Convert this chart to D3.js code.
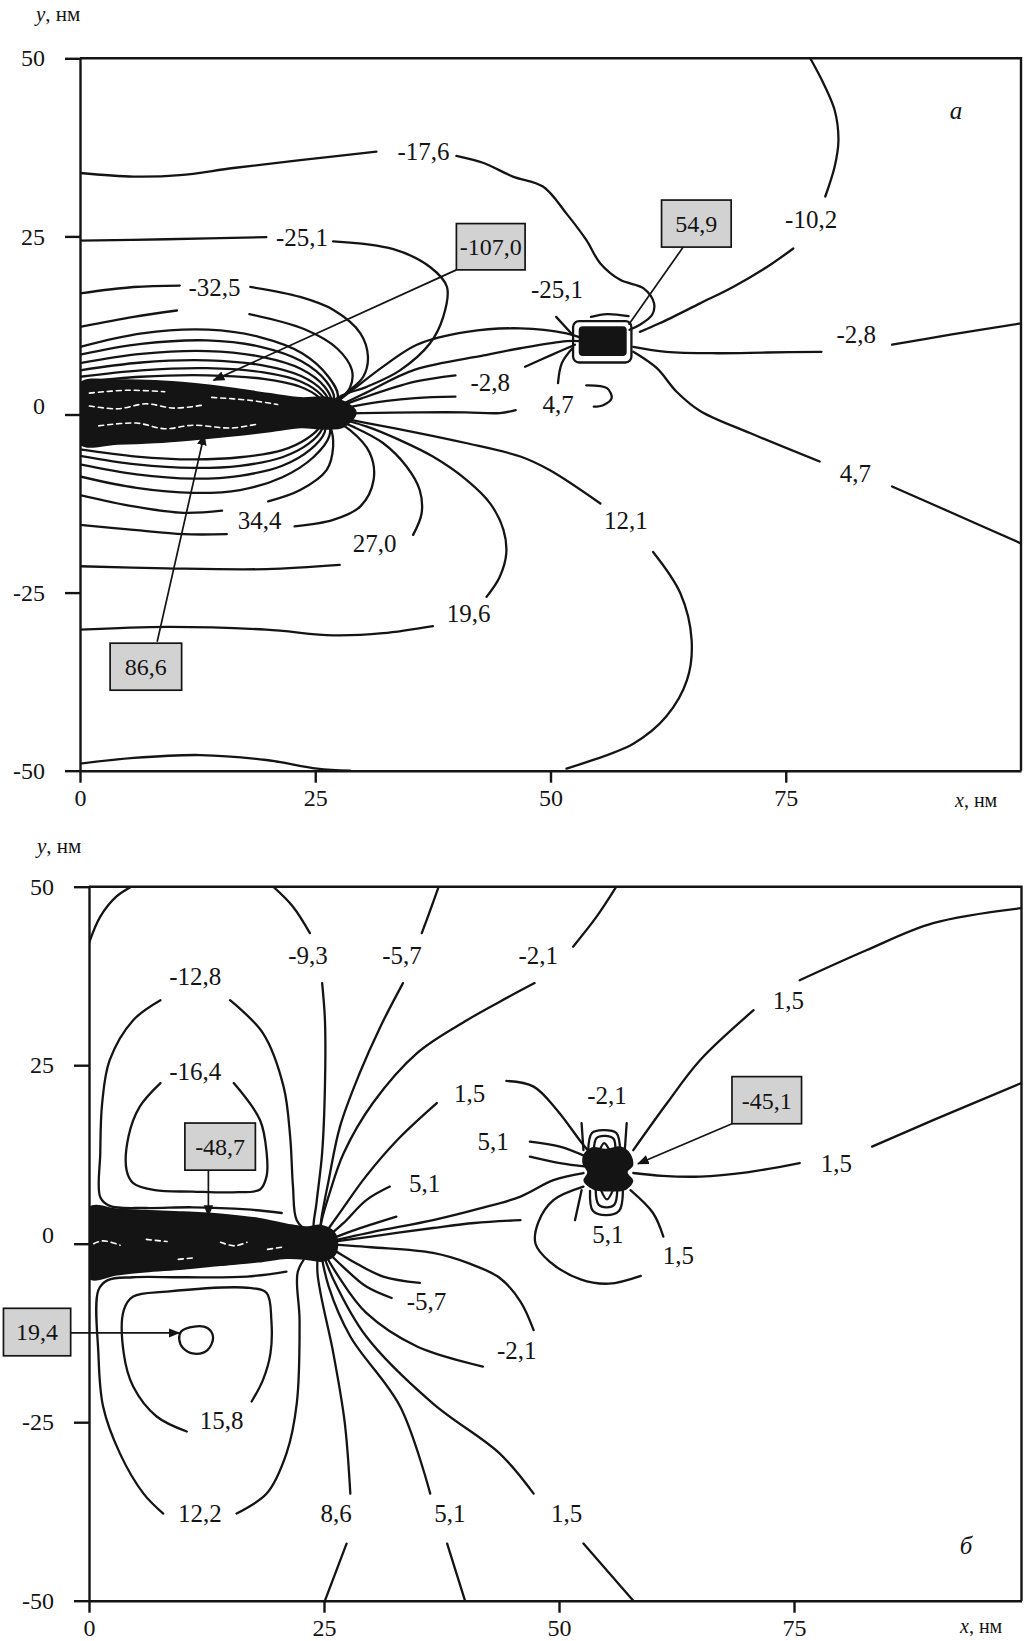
<!DOCTYPE html>
<html>
<head>
<meta charset="utf-8">
<script src="https://cdn.jsdelivr.net/npm/d3@7"></script>
<style>
  body { margin: 0; background: #fff; }
  svg text { font-family: "Liberation Serif", "Times New Roman", serif; fill: #141414; }
</style>
</head>
<body>
<svg id="chart" width="1027" height="1641"></svg>
<script>
// ---------- axis ticks ----------
const xTicks = [0, 25, 50, 75];
const yTicks = [-50, -25, 0, 25, 50];

// ================= Panel а: potential contours (nm) =================
// closed loops above the charged strip, segments split where the plot leaves gaps
const upperA = [
  {level: -17.6, pts: [[0,33.9],[5.7,33.4],[10.6,33.6],[16.3,34.6],[23.4,35.7],[31.5,36.9]]},
  {level: -17.6, pts: [[40.0,36.3],[42.9,35.3],[46.0,33.4],[49.2,32.0],[51.7,28.2],[53.8,24.5],[55.3,21.2],[57.4,18.9],[59.9,17.7],[61.0,15.6],[60.8,14.0],[59.5,12.6],[58.4,11.9]]},
  {level: -25.1, pts: [[0,24.4],[9.2,24.6],[19.8,24.9]]},
  {level: -25.1, pts: [[26.9,24.3],[33.3,23.2],[37.2,20.7],[39.0,17.9],[38.6,13.7],[37.2,10.0],[34.0,6.2],[30.5,3.9],[27.6,2.5],[25.8,0.2]]},
  {level: -32.5, pts: [[0,17.0],[5.7,17.9],[10.6,18.1]]},
  {level: -32.5, pts: [[18.1,17.9],[23.4,16.5],[26.9,14.7],[29.8,11.4],[30.6,8.1],[30.1,5.3],[28.3,3.0],[25.8,0.2]]},
  {level: -39.9, pts: [[0,12.3],[5.7,13.7],[10.3,14.6]]},
  {level: -39.9, pts: [[18.0,14.1],[23.8,12.0],[27.3,9.3],[28.9,6.2],[28.7,3.8],[27.2,1.6],[25.8,0.2]]},
  {level: -47.4, pts: [[0,9.5],[6.6,11.4],[13.6,11.9],[19,10.9],[23.6,8.6],[26.4,5.3],[27.4,2.5],[25.8,0.2]]},
  {level: -54.8, pts: [[0,8.4],[6.5,9.9],[13.5,10.4],[19.2,9.5],[23.5,7.5],[26.2,4.6],[27.0,2.1],[25.8,0.2]]},
  {level: -62.2, pts: [[0,7.2],[6.5,8.5],[13.5,8.9],[19.3,8.1],[23.5,6.4],[26.0,3.9],[26.7,1.8],[25.8,0.2]]},
  {level: -69.7, pts: [[0,6.2],[6.5,7.3],[13.5,7.6],[19.4,6.9],[23.5,5.4],[25.8,3.3],[26.5,1.5],[25.8,0.2]]},
  {level: -77.1, pts: [[0,5.3],[6.5,6.2],[13.5,6.5],[19.5,5.9],[23.5,4.6],[25.6,2.8],[26.3,1.3],[25.8,0.2]]},
  {level: -84.5, pts: [[0,4.5],[6.5,5.3],[13.5,5.5],[19.5,5.0],[23.4,3.9],[25.4,2.4],[26.1,1.1],[25.8,0.2]]}
];

// loops below the strip
const lowerA = [
  {level: 12.1, pts: [[0,-49.0],[5.7,-48.2],[12.8,-47.8],[19.8,-48.5],[25.2,-49.7],[28.7,-50]]},
  {level: 19.6, pts: [[0,-30.2],[9.2,-29.8],[19.8,-30.2],[26.9,-31.0],[32.2,-30.7],[37.5,-29.7]]},
  {level: 19.6, pts: [[43.2,-25.6],[44.6,-22.8],[45.3,-19.5],[45.0,-16.2],[43.6,-12.5],[41.1,-9.2],[37.5,-5.9],[34.0,-3.6],[30.5,-1.7],[25.8,0]]},
  {level: 27.0, pts: [[0,-21.3],[9.2,-21.6],[19.8,-21.7],[27.6,-21.1]]},
  {level: 27.0, pts: [[35.4,-16.9],[36.3,-13.9],[36.1,-10.6],[34.7,-7.3],[32.2,-4.0],[29.0,-1.7],[25.8,0]]},
  {level: 34.4, pts: [[0,-15.5],[5.7,-16.2],[11,-16.8],[15.6,-16.8]]},
  {level: 34.4, pts: [[22.8,-15.7],[26.9,-14.8],[29.8,-12.9],[31.2,-9.2],[30.8,-5.4],[28.7,-2.2],[25.8,0]]},
  {level: 41.8, pts: [[0,-11.3],[5.7,-12.9],[11,-13.8],[15.1,-13.5]]},
  {level: 41.8, pts: [[20,-12.2],[23.4,-10.6],[26.2,-7.8],[26.9,-4.5],[26.6,-1.7],[25.8,0]]},
  {level: 49.3, pts: [[0,-8.7],[6,-10.3],[12,-11.0],[17,-10.6],[21.5,-8.8],[24.8,-6.0],[26.5,-3.0],[26.4,-1.0],[25.8,0]]},
  {level: 56.7, pts: [[0,-7.0],[6,-8.4],[12,-9.0],[17,-8.6],[21.5,-7.2],[24.5,-4.9],[26.0,-2.5],[26.0,-0.8],[25.8,0]]},
  {level: 64.1, pts: [[0,-5.8],[6,-7.0],[12,-7.5],[17,-7.2],[21.5,-6.0],[24.3,-4.1],[25.7,-2.1],[25.9,-0.7],[25.8,0]]},
  {level: 71.6, pts: [[0,-4.9],[6,-5.9],[12,-6.3],[17,-6.0],[21.5,-5.0],[24.1,-3.4],[25.5,-1.7],[25.8,0]]}
];

// lines fanning out of the strip end and those around the particle at (55, 10)
const fanA = [
  {level: -17.6, pts: [[25.8,0.2],[29,3.5],[32.5,7.0],[35.8,9.8],[41.1,11.6],[46.8,12.1],[51.7,11.4],[53.2,10.8]]},
  {level: -10.2, pts: [[25.8,0.2],[30,2.8],[35.6,6.3],[42.9,8.3],[46.8,9.3],[51.7,10.3],[53.2,10.3]]},
  {level: -2.8, pts: [[25.8,0.2],[30,2.3],[35.6,4.6],[39.9,5.5]]},
  {level: -2.8, pts: [[47.3,6.7],[50,8.3],[52.6,9.8]]},
  {level: 4.7, pts: [[25.8,0.1],[30,1.4],[35.6,2.3],[39.9,2.5]]},
  {level: 4.7, pts: [[50.8,4.4],[51.2,7.2],[52.4,9.4]]},
  {level: 4.7, pts: [[25.8,0.1],[30,0.2],[36,0.3],[41,0.3],[44.6,0.2],[46.3,0.6]]},
  {level: 4.7, pts: [[53.8,4.1],[56,3.7],[56.5,2.3],[55.6,1.3],[54.6,1.1]]},
  {level: 12.1, pts: [[25.8,0],[30.5,-1.2],[36,-2.6],[41,-4.0],[46.8,-5.9],[49.9,-7.8],[55.3,-12.5]]},
  {level: 12.1, pts: [[60.9,-19.3],[63.8,-25.1],[65,-31.7],[64.5,-37.3],[62.3,-42.4],[58.8,-46.2],[51.7,-49.7]]},
  {level: -10.2, pts: [[77.6,50],[79.0,46.5],[80.2,42.7],[80.6,38.5],[80.2,34.8],[79.2,30.6]]},
  {level: -10.2, pts: [[75.8,23.3],[73,20.7],[69.4,17.9],[65.9,15.6],[61.6,12.8],[59.5,11.6]]},
  {level: -2.8, pts: [[58.8,9.5],[62.3,8.8],[67.7,8.6],[73,8.7],[78.8,8.8]]},
  {level: -2.8, pts: [[86.3,9.8],[92.5,11.2],[100,12.8]]},
  {level: 4.7, pts: [[58.8,8.8],[61.3,6.5],[63.4,3.2],[65.9,0.5],[71.2,-2.6],[78.6,-6.6]]},
  {level: 4.7, pts: [[86.3,-10.1],[93,-14.0],[100,-18.1]]},
  {level: -25.1, pts: [[50.6,13.7],[52.2,11.4]]},
  {level: 54.9, pts: [[54.3,13.7],[56,14.1],[58.3,13.8]]}
];

// dense charged strip along y = 0 and its particle
const stripA = [[0,4.3],[4,4.8],[8,4.7],[12,4.3],[16,3.7],[20,2.9],[23.5,2.3],[26,2.4],[28,1.8],[29.3,0.3],[28,-1.7],[26,-2.0],[23.5,-1.8],[20,-2.4],[16,-3.0],[12,-3.5],[8,-3.9],[4,-4.1],[0,-4.1]];
const speckA = [
  [[1,1.2],[4,0.8],[7,1.5],[10,0.9],[13,1.3]],
  [[2,-1.6],[6,-1.2],[9,-2.0],[12,-1.5],[16,-1.9],[19,-1.3]],
  [[14,2.4],[18,2.0],[21,1.4]],
  [[1,3.0],[5,3.4],[9,3.2]]
];
const particleA = {outer: [52.4, 58.6, 7.3, 13.1], core: [53.0, 58.1, 8.2, 12.4]};

const labelsA = [
  ["-17,6",36.5,36.9],["-25,1",23.6,24.9],["-32,5",14.3,17.9],["-25,1",50.7,17.6],
  ["-10,2",77.7,27.4],["-2,8",43.6,4.5],["4,7",50.8,1.5],["-2,8",82.5,11.2],
  ["4,7",82.4,-8.3],["12,1",58.0,-14.8],["34,4",19.1,-14.8],["27,0",31.3,-18.1],["19,6",41.3,-27.9]
];
const boxesA = [["-107,0",40.0,47.3,26.8,20.3],["54,9",61.8,69.2,30.1,23.5],["86,6",3.2,10.8,-32.1,-38.7]];
const leadersA = [
  {from: [40.0,20.3], to: [14.2,4.8], arrow: true},
  {from: [64.1,23.5], to: [58.3,12.6], arrow: false},
  {from: [8.2,-31.9], to: [13.2,-2.8], arrow: true}
];

// ================= Panel б =================
const leftB = [
  {level: -9.3, pts: [[0,42.1],[1.2,45.8],[2.9,48.6],[4.5,50]]},
  {level: -12.8, pts: [[7.6,34.1],[4.7,31.3],[2.2,25.7],[1.4,19.7],[1.2,12.7],[1.2,6.5],[2.2,5.3],[6,5.0],[11,5.1],[16.8,4.8],[20.5,4.3]]},
  {level: -12.8, pts: [[15,34.1],[18.5,29.5],[20.7,22],[21.4,15],[21.7,8],[22.1,3.3],[23.4,1.6]]},
  {level: -16.4, pts: [[7.6,22.5],[5.4,19.2],[4.2,15],[4.0,10.3],[4.7,8.5],[7,7.5],[11,7.3],[15.3,7.2],[18.2,7.6],[18.9,9.5],[18.9,12.7],[18.2,17.3],[15.4,22.5]]},
  {level: 12.2, pts: [[7.9,-37.8],[5.8,-35],[3.3,-29.4],[1.5,-22.8],[1.0,-15.4],[1.0,-6.5],[2.0,-5.1],[4.7,-4.7],[10,-4.7],[16.8,-4.6],[21,-3.9]]},
  {level: 12.2, pts: [[15.7,-37.8],[18.9,-35],[21,-29.4],[22.1,-22.4],[22.4,-10.7],[22.2,-4.0],[23.2,-1.6]]},
  {level: 15.8, pts: [[10.4,-26.3],[7.2,-24.2],[4.7,-20],[3.7,-15.4],[3.7,-9.3],[4.7,-7.4],[8.3,-6.7],[17.1,-6.2],[18.9,-6.9],[19.4,-10.7],[19.3,-15.4],[18.5,-19.1],[17.3,-22.1]]}
];
const peakB = [[9.8,-12.3],[11.2,-11.6],[12.6,-11.8],[13.2,-13.1],[12.6,-14.9],[11.2,-15.4],[10.0,-14.6],[9.6,-13.4]];

const fanB = [
  {level: -9.3, pts: [[19.6,50],[21.7,47.2],[23.5,43.5]]},
  {level: -9.3, pts: [[24.8,36.5],[25.1,31.3],[25.1,22],[24.8,12.7],[24.2,5.7],[23.9,1.9],[24.5,0]]},
  {level: -5.7, pts: [[37.2,50],[36.3,46.7],[35.4,43.5]]},
  {level: -5.7, pts: [[33.4,36.5],[31,30.4],[28.8,23.9],[26.7,16.4],[25.5,8.9],[24.7,3.3],[24.5,0]]},
  {level: -2.1, pts: [[56.1,50],[54,45.8],[51.5,41.6]]},
  {level: -2.1, pts: [[47.4,36.5],[43.7,33.9],[40.2,31.3],[34.9,26.7],[30.2,19.7],[27.1,12.7],[25.6,7.1],[24.7,2.9],[24.5,0]]},
  {level: 1.5, pts: [[24.5,0.3],[26.5,4],[29.5,9.5],[33,14.8],[37,19.7]]},
  {level: 1.5, pts: [[44.4,22.8],[47.3,22],[49.8,18.7],[52.2,14.5],[53.3,12.7]]},
  {level: 5.1, pts: [[24.5,0],[27,2.8],[29.5,6.1],[32,8]]},
  {level: 5.1, pts: [[24.5,0],[28,1.8],[32.7,3.8]]},
  {level: 8.6, pts: [[24.5,0],[30,1.6],[36.6,3.3],[41.5,4.9],[45.9,6.6],[49.4,8.9],[52.6,9.9]]},
  {level: 8.6, pts: [[24.5,0],[30,1.0],[36.6,2.2],[41,2.9],[45.9,3.3]]},
  {level: -2.1, pts: [[24.5,0],[30,-0.5],[36.6,-1.3],[40.5,-2.8],[43.7,-4.8],[45.9,-8.1],[47.3,-12.1]]},
  {level: -5.7, pts: [[24.5,0],[26,-0.9],[28.5,-2.8],[31.3,-4.6],[35.2,-5.5]]},
  {level: -5.7, pts: [[24.5,0],[27,-3.2],[29.5,-6.0],[32.2,-7.6]]},
  {level: -2.1, pts: [[24.5,0],[26.5,-4.5],[29.5,-9.7],[34.9,-14.4],[41.9,-17.2]]},
  {level: 1.5, pts: [[24.5,0],[26,-5],[29.5,-13],[36.6,-22.4],[43.7,-29.4],[47.3,-35]]},
  {level: 1.5, pts: [[52.6,-42],[57.9,-50]]},
  {level: 5.1, pts: [[24.5,0],[25.5,-6],[27.8,-13],[33.1,-22.8],[36.3,-35]]},
  {level: 5.1, pts: [[38.1,-42],[40,-50]]},
  {level: 8.6, pts: [[24.5,0],[24.3,-4],[26,-15.4],[27.2,-25],[27.8,-35]]},
  {level: 8.6, pts: [[27.4,-42],[25.1,-50]]}
];

const dipoleB = [
  {level: 1.5, pts: [[57.9,13.1],[61.5,19.7],[65,25.7],[70.7,32.7]]},
  {level: 1.5, pts: [[75.6,36.9],[82.7,41.1],[89.8,44.9],[99.2,47]]},
  {level: 1.5, pts: [[57.9,9.9],[61,9.5],[65,9.4],[70,10],[75.6,11.3]]},
  {level: 1.5, pts: [[83.3,13.6],[89.8,17.3],[99.2,22.5]]},
  {level: 5.1, pts: [[46.9,14.3],[50.1,13.6],[52.9,12.2]]},
  {level: 5.1, pts: [[46.9,12.2],[50.1,11.3],[52.9,10.8]]},
  {level: -2.1, pts: [[52.4,16.9],[52.6,13.1]]},
  {level: -2.1, pts: [[57.2,16.9],[57.0,13.1]]},
  {level: 5.1, pts: [[52.4,7.5],[51.7,3.3]]},
  {level: 1.5, pts: [[57.6,7.5],[60,4.3],[61.1,1.0]]},
  {level: 5.1, pts: [[52.6,8],[49.4,6.1],[47.8,3.0],[47.5,0],[49,-2.5],[52.3,-5.0],[55.3,-5.6],[58.7,-4.5]]},
  {level: -9.3, pts: [[53.1,12.9],[53.5,15.5],[54.7,15.9],[56.1,15.5],[56.5,12.9]]},
  {level: -16.4, pts: [[53.7,13.0],[54.0,14.8],[54.9,15.1],[55.8,14.7],[56.0,13.0]]},
  {level: -23.6, pts: [[54.3,13.0],[54.8,14.1],[55.4,13.0]]},
  {level: 12.2, pts: [[53.3,7.4],[53.6,4.6],[55.0,4.0],[56.4,4.6],[56.8,7.4]]},
  {level: 19.4, pts: [[53.9,7.5],[54.2,5.5],[55.1,5.1],[55.9,5.5],[56.2,7.5]]},
  {level: 26.6, pts: [[54.5,7.4],[55.1,6.2],[55.7,7.4]]}
];
const particleB = [[52.6,12.5],[53.5,13.5],[55,13.3],[56.6,13.6],[57.6,12.6],[57.9,11],[57.3,10],[57.9,8.8],[57.2,7.6],[55.5,7.3],[53.6,7.6],[52.6,8.8],[53,10],[52.5,11.2]];
const stripB = [[0,5.0],[3,4.8],[6,4.6],[10,4.4],[14,4.1],[18,3.5],[21,2.7],[23,2.3],[24.8,2.5],[26.2,1.3],[26.2,-1.4],[24.8,-2.4],[23,-2.1],[21,-2.0],[18,-2.5],[14,-3.0],[10,-3.5],[6,-3.9],[3,-4.3],[0,-4.8]];
const speckB = [
  [[0.5,0],[1.5,0.4],[3.3,-0.2]],
  [[6.1,0.6],[8.3,0.3]],
  [[14,0.2],[15.5,-0.3],[16.8,0.2]],
  [[19,-0.8],[20.5,-0.5]],
  [[9.5,-2.2],[11,-2.0]]
];

const labelsB = [
  ["-9,3",23.3,40.4],["-5,7",33.3,40.4],["-2,1",47.8,40.4],["-12,8",11.3,37.4],["-16,4",11.3,24.1],
  ["1,5",40.5,21.1],["5,1",43,14.3],["5,1",35.7,8.5],["-2,1",55.1,20.8],["1,5",74.4,34.1],
  ["1,5",79.5,11.3],["5,1",55.2,1.3],["1,5",62.7,-1.6],["-5,7",35.9,-8.1],["-2,1",45.5,-14.9],
  ["15,8",14.1,-24.7],["12,2",11.8,-37.8],["8,6",26.3,-37.8],["5,1",38.4,-37.8],["1,5",50.8,-37.8]
];
const boxesB = [["-48,7",10.2,17.7,16.9,10.3],["-45,1",68.4,75.8,23.4,16.8],["19,4",-9.1,-1.95,-9.05,-15.7]];
const leadersB = [
  {from: [12.7,10.3], to: [12.7,3.9], arrow: true},
  {from: [-1.95,-12.5], to: [9.6,-12.5], arrow: true},
  {from: [68.4,16.8], to: [58.4,11.2], arrow: true}
];

// ---------- layout ----------
const INK = "#141414";
const panels = [
  {key: "a", xRange: [80, 1021], yRange: [770.7, 58.3], xMax: 100, letter: ["а", 93.1, 42.7],
   yTitle: [36, 21], xTitle: [955, 807],
   lines: [...upperA, ...lowerA, ...fanA], strip: stripA, specks: speckA,
   labels: labelsA, boxes: boxesA, leaders: leadersA},
  {key: "b", xRange: [89, 1021.5], yRange: [1600.7, 886.7], xMax: 99.2, letter: ["б", 93.3, -42.2],
   yTitle: [37, 853], xTitle: [960, 1633],
   lines: [...leftB, ...fanB, ...dipoleB], strip: stripB, specks: speckB,
   labels: labelsB, boxes: boxesB, leaders: leadersB}
];

const svg = d3.select("#chart");
const defs = svg.append("defs");
defs.append("marker").attr("id", "arrow").attr("viewBox", "0 0 10 10")
  .attr("refX", 9).attr("refY", 5).attr("markerWidth", 7).attr("markerHeight", 7)
  .attr("orient", "auto")
  .append("path").attr("d", "M0,1L10,5L0,9Z").attr("fill", INK);

panels.forEach(p => {
  const sx = d3.scaleLinear().domain([0, p.xMax]).range(p.xRange);
  const sy = d3.scaleLinear().domain([-50, 50]).range(p.yRange);
  const g = svg.append("g").attr("class", "panel-" + p.key);

  defs.append("clipPath").attr("id", "clip-" + p.key)
    .append("rect").attr("x", sx(0)).attr("y", sy(50))
    .attr("width", sx(p.xMax) - sx(0)).attr("height", sy(-50) - sy(50));

  const plot = g.append("g").attr("clip-path", `url(#clip-${p.key})`);
  const curve = d3.line().x(d => sx(d[0])).y(d => sy(d[1])).curve(d3.curveCatmullRom.alpha(0.5));
  const closed = d3.line().x(d => sx(d[0])).y(d => sy(d[1])).curve(d3.curveCatmullRomClosed.alpha(0.5));

  // contour lines
  plot.selectAll("path.iso").data(p.lines).join("path")
    .attr("class", "iso").attr("d", d => curve(d.pts))
    .attr("fill", "none").attr("stroke", INK).attr("stroke-width", 2.3)
    .attr("stroke-linecap", "round").attr("stroke-linejoin", "round");

  // dense strip of merged contours
  plot.append("path").attr("d", closed(p.strip))
    .attr("fill", INK).attr("stroke", INK).attr("stroke-width", 2);
  plot.selectAll("path.speck").data(p.specks).join("path")
    .attr("class", "speck").attr("d", d => curve(d))
    .attr("fill", "none").attr("stroke", "#fff").attr("stroke-width", 1.6)
    .attr("stroke-dasharray", "5 4").attr("stroke-linecap", "round");

  if (p.key === "a") {
    const o = particleA.outer, c = particleA.core;
    plot.append("rect").attr("x", sx(o[0])).attr("y", sy(o[3]))
      .attr("width", sx(o[1]) - sx(o[0])).attr("height", sy(o[2]) - sy(o[3]))
      .attr("rx", 6).attr("fill", "none").attr("stroke", INK).attr("stroke-width", 2.3);
    plot.append("rect").attr("x", sx(c[0])).attr("y", sy(c[3]))
      .attr("width", sx(c[1]) - sx(c[0])).attr("height", sy(c[2]) - sy(c[3]))
      .attr("rx", 4).attr("fill", INK);
  } else {
    plot.append("path").attr("d", closed(particleB)).attr("fill", INK);
    plot.append("path").attr("d", closed(peakB))
      .attr("fill", "none").attr("stroke", INK).attr("stroke-width", 2.3);
  }

  // axes
  const ax = g.append("g").attr("transform", `translate(0,${sy(-50)})`)
    .call(d3.axisBottom(sx).tickValues(xTicks).tickSize(12).tickSizeOuter(0).tickPadding(6).tickFormat(d => String(d)));
  const ay = g.append("g").attr("transform", `translate(${sx(0)},0)`)
    .call(d3.axisLeft(sy).tickValues(yTicks).tickSize(15).tickSizeOuter(0).tickPadding(20).tickFormat(d => String(d)));
  [ax, ay].forEach(a => {
    a.attr("font-size", null).attr("font-family", null);
    a.selectAll("path, line").attr("stroke", INK).attr("stroke-width", 2.4);
    a.selectAll("text").attr("font-size", 24).attr("fill", INK);
  });
  ay.selectAll(".tick text").filter(d => d === 0).attr("dy", "-0.05em");
  // top and right edges of the frame
  g.append("path")
    .attr("d", `M${sx(0)},${sy(50)}H${sx(p.xMax)}V${sy(-50)}`)
    .attr("fill", "none").attr("stroke", INK).attr("stroke-width", 2.4);

  // axis titles
  const yt = g.append("text").attr("x", p.yTitle[0]).attr("y", p.yTitle[1]).attr("font-size", 21);
  yt.append("tspan").attr("font-style", "italic").text("y");
  yt.append("tspan").text(", нм");
  const xt = g.append("text").attr("x", p.xTitle[0]).attr("y", p.xTitle[1]).attr("font-size", 20);
  xt.append("tspan").attr("font-style", "italic").text("x");
  xt.append("tspan").text(", нм");

  // level labels
  g.selectAll("text.lvl").data(p.labels).join("text")
    .attr("class", "lvl").attr("x", d => sx(d[1])).attr("y", d => sy(d[2]))
    .attr("dy", "0.35em").attr("text-anchor", "middle").attr("font-size", 25)
    .text(d => d[0]);

  // panel letter
  g.append("text").attr("x", sx(p.letter[1])).attr("y", sy(p.letter[2]))
    .attr("dy", "0.35em").attr("text-anchor", "middle").attr("font-size", 25)
    .attr("font-style", "italic").text(p.letter[0]);

  // leader lines to extrema
  g.selectAll("line.lead").data(p.leaders).join("line")
    .attr("class", "lead")
    .attr("x1", d => sx(d.from[0])).attr("y1", d => sy(d.from[1]))
    .attr("x2", d => sx(d.to[0])).attr("y2", d => sy(d.to[1]))
    .attr("stroke", INK).attr("stroke-width", 1.7)
    .attr("marker-end", d => d.arrow ? "url(#arrow)" : null);

  // boxed extreme values
  const bx = g.selectAll("g.box").data(p.boxes).join("g").attr("class", "box");
  bx.append("rect")
    .attr("x", d => sx(d[1])).attr("y", d => sy(d[3]))
    .attr("width", d => sx(d[2]) - sx(d[1])).attr("height", d => sy(d[4]) - sy(d[3]))
    .attr("fill", "#d2d2d2").attr("stroke", INK).attr("stroke-width", 1.7);
  bx.append("text")
    .attr("x", d => (sx(d[1]) + sx(d[2])) / 2).attr("y", d => (sy(d[3]) + sy(d[4])) / 2)
    .attr("dy", "0.35em").attr("text-anchor", "middle").attr("font-size", 24)
    .text(d => d[0]);
});
</script>
</body>
</html>
